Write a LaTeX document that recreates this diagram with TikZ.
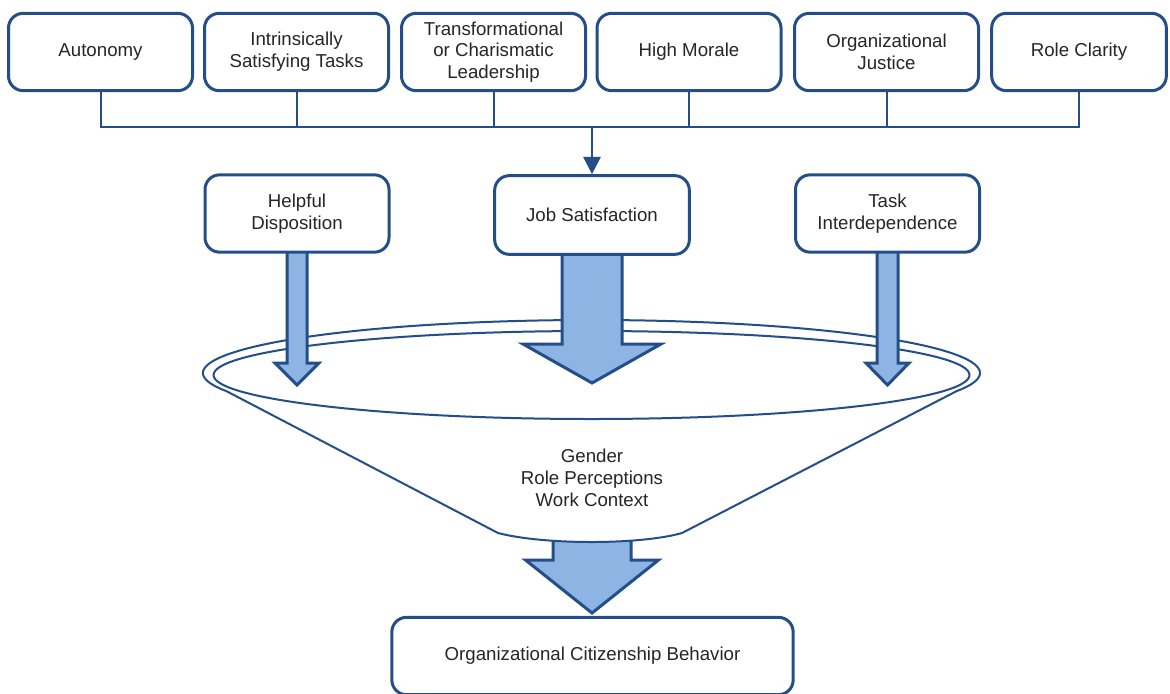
\documentclass[tikz,border=0pt]{standalone}
\usepackage{fontspec}
\setmainfont{Liberation Sans}
\usetikzlibrary{arrows.meta}
\definecolor{boxblue}{RGB}{35,78,135}
\definecolor{arrowfill}{RGB}{142,180,227}
\tikzset{every picture/.style={line width=0.75pt}}
% block arrow: x, top, head start, tip, half shaft, half head
\newcommand{\blockarrow}[6]{%
  \draw[blockarrow] (#1-#5,#2) -- (#1-#5,#3) -- (#1-#6,#3) -- (#1,#4) -- (#1+#6,#3) -- (#1+#5,#3) -- (#1+#5,#2) -- cycle;}

\begin{document}
\begin{tikzpicture}[x=0.75pt,y=0.75pt,yscale=-1,xscale=1,
  factor/.style={draw=boxblue,line width=2.25pt,rounded corners=11pt,fill=white,align=center,
    minimum width=138pt,minimum height=58pt,inner sep=2pt,text=black!85,
    font=\fontsize{14}{16.3}\selectfont},
  busline/.style={draw=boxblue,line width=1.5pt},
  funnelline/.style={draw=boxblue,line width=1.5pt},
  blockarrow/.style={draw=boxblue,line width=2.25pt,fill=arrowfill,line join=miter}]
\useasboundingbox (0,0) rectangle (1170,693);

%Bottom arrow
\blockarrow{592}{536}{560}{613}{39}{66.5}

%Funnel
\coordinate (rim) at (591.5,373);
\draw[funnelline,fill=white] ([shift={(160:388.5 and 53)}]rim) arc[start angle=160,end angle=380,x radius=388.5,y radius=53]
  -- (682,533) .. controls (640,545) and (544,545) .. (498,533) -- cycle;
\draw[funnelline] (591.5,375) ellipse [x radius=378,y radius=44];

%Arrows into the funnel
\blockarrow{297}{250}{363}{385}{10}{22}
\blockarrow{592}{250}{344}{383}{30}{69}
\blockarrow{887.5}{250}{363}{385}{10.5}{21.5}

%Top row
\node[factor] (auto) at (100.5,52) {Autonomy};
\node[factor] (intr) at (296.5,52) {Intrinsically\\Satisfying Tasks};
\node[factor] (lead) at (493.5,52) {Transformational\\or Charismatic\\Leadership};
\node[factor] (morale) at (689,52) {High Morale};
\node[factor] (justice) at (886.5,52) {Organizational\\Justice};
\node[factor,minimum width=131pt] (role) at (1079,52) {Role Clarity};

%Middle row
\node[factor] (help) at (297,213.5) {Helpful\\Disposition};
\node[factor,minimum width=146pt,minimum height=59pt] (job) at (592,215) {Job Satisfaction};
\node[factor] (task) at (887.5,213.5) {Task\\Interdependence};

%Bottom
\node[factor,minimum width=301pt] (ocb) at (592.5,656) {Organizational Citizenship Behavior};

% Text Node
\node[align=center,text=black!85,font=\fontsize{14}{16.3}\selectfont] (moder) at (592,478) {Gender\\Role Perceptions\\Work Context};

%Bus
\coordinate (bus) at (592,127);
\draw[busline] (auto.south) -- (auto.south |- bus) -- (role.south |- bus) -- (role.south);
\foreach \n in {intr,lead,morale,justice}
  \draw[busline] (\n.south) -- (\n.south |- bus);
\draw[busline,-{Triangle[length=13pt,width=13pt]}] (bus) -- (job.north);

\end{tikzpicture}
\end{document}
